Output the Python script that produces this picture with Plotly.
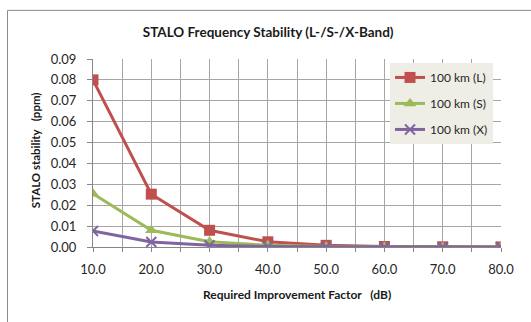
import plotly.graph_objects as go

x_vals = [10, 20, 30, 40, 50, 60, 70, 80]
l_band = [0.080, 0.0253, 0.0080, 0.0025, 0.0008, 0.00025, 0.00008, 0.000025]
s_band = [0.0255, 0.0080, 0.0025, 0.0008, 0.00025, 0.00008, 0.000025, 0.000008]
x_band = [0.0077, 0.0024, 0.0008, 0.00025, 0.00008, 0.000025, 0.000008, 0.0000025]
x_ticks = [10, 15, 20, 25, 30, 35, 40, 45, 50, 55, 60, 65, 70, 75, 80]
x_tick_text = ["10.0", "", "20.0", "", "30.0", "", "40.0", "", "50.0", "", "60.0", "", "70.0", "", "80.0"]
y_ticks = [0.0, 0.01, 0.02, 0.03, 0.04, 0.05, 0.06, 0.07, 0.08, 0.09]
y_tick_text = ["0.00", "0.01", "0.02", "0.03", "0.04", "0.05", "0.06", "0.07", "0.08", "0.09"]

FONT = "Lato"
fig = go.Figure()
fig.add_trace(go.Scatter(x=x_vals, y=l_band, name="100 km (L)", mode="lines+markers",
                         legendgroup="L",
                         line=dict(color="#C0504D", width=3),
                         marker=dict(symbol="square", size=11, color="#C0504D")))
fig.add_trace(go.Scatter(x=x_vals, y=s_band, name="100 km (S)", mode="lines+markers",
                         legendgroup="S",
                         line=dict(color="#9BBB59", width=3),
                         marker=dict(symbol="triangle-up", size=11, color="#9BBB59")))
fig.add_trace(go.Scatter(x=x_vals, y=x_band, name="100 km (X)", mode="lines+markers",
                         legendgroup="X",
                         line=dict(color="#8064A2", width=3),
                         marker=dict(symbol="x-thin-open", size=10, color="#8064A2",
                                     line=dict(color="#8064A2", width=2))))

fig.update_layout(
    width=531, height=322,
    margin=dict(l=93, r=30, t=59, b=75, pad=0),
    paper_bgcolor="white", plot_bgcolor="white",
    font=dict(family=FONT, size=13, color="#262626"),
    title=dict(text="<b>STALO Frequency Stability (L-/S-/X-Band)</b>",
               x=0.505, xanchor="center", y=1 - 32 / 322, yanchor="middle",
               font=dict(family=FONT, size=13.5, color="#1a1a1a")),
    showlegend=True,
    legend=dict(x=0.728, y=0.979, xanchor="left", yanchor="top",
                bgcolor="#EEEDE6", borderwidth=0,
                font=dict(family=FONT, size=12, color="#262626"),
                tracegroupgap=7, itemwidth=30),
    xaxis=dict(range=[10, 80], tickvals=x_ticks, ticktext=x_tick_text,
               showgrid=True, gridcolor="#A6A6A6", gridwidth=1,
               showline=True, linecolor="#868686", linewidth=1,
               ticks="outside", ticklen=4, tickcolor="#868686",
               ticklabelstandoff=6, zeroline=False, fixedrange=True),
    yaxis=dict(range=[0, 0.09], tickvals=y_ticks, ticktext=y_tick_text,
               showgrid=True, gridcolor="#A6A6A6", gridwidth=1,
               showline=True, linecolor="#868686", linewidth=1,
               ticks="outside", ticklen=5, tickcolor="#868686",
               ticklabelstandoff=8, zeroline=False, fixedrange=True),
    annotations=[
        dict(text="<b>STALO stability   (ppm)</b>", xref="paper", yref="paper",
             x=-0.142, y=0.515, textangle=-90, showarrow=False,
             xanchor="center", yanchor="middle",
             font=dict(family=FONT, size=11.5, color="#1a1a1a")),
        dict(text="<b>Required Improvement Factor   (dB)</b>", xref="paper", yref="paper",
             x=0.5, y=-(294 - 246.5) / 187.5, showarrow=False,
             xanchor="center", yanchor="middle",
             font=dict(family=FONT, size=12, color="#1a1a1a")),
    ],
    shapes=[
        dict(type="rect", xref="paper", yref="paper",
             x0=-(93 - 7.5) / 408, x1=1.2, y0=-0.6, y1=1 + (59 - 10.5) / 187.5,
             line=dict(color="#8C8C8C", width=1), fillcolor="rgba(0,0,0,0)", layer="below"),
    ],
)

fig.write_html("out.html")
